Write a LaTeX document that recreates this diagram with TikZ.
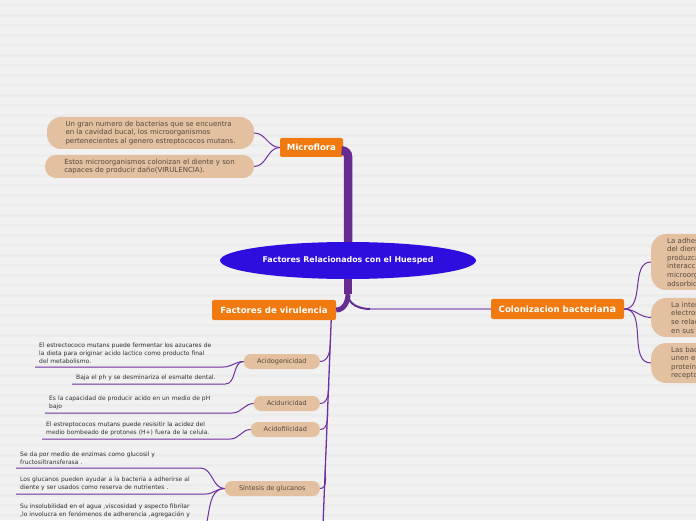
\documentclass[tikz,border=0pt]{standalone}
\usepackage{fontspec}
\setmainfont{DejaVu Sans}
\usepackage{xcolor}
\usetikzlibrary{shapes.geometric,calc}
\definecolor{bgpaper}{RGB}{241,241,241}
\definecolor{bgline}{RGB}{236,236,236}
\definecolor{topicorange}{RGB}{240,122,16}
\definecolor{notepeach}{RGB}{227,192,160}
\definecolor{linkpurple}{RGB}{112,48,160}
\definecolor{trunkpurple}{RGB}{102,44,145}
\definecolor{rootblue}{RGB}{46,14,222}
\definecolor{notetext}{RGB}{88,74,62}
\definecolor{leaftext}{RGB}{48,48,48}
\definecolor{paleline}{RGB}{170,140,200}

\begin{document}
\begin{tikzpicture}[x=1pt, y=1pt]
    \tikzstyle{topic}=[rectangle, fill=topicorange, rounded corners=2pt, text=white, font=\fontsize{8.6}{10}\selectfont\bfseries, inner sep=0pt]
    \tikzstyle{note}=[rectangle, fill=notepeach, text=notetext, align=left, font=\fontsize{7}{8.6}\selectfont, inner sep=0pt]
    \tikzstyle{pill}=[rectangle, fill=notepeach, rounded corners=7pt, text=notetext, font=\fontsize{6.5}{8}\selectfont, minimum height=15pt, inner sep=0pt, anchor=east]
    \tikzstyle{leaf}=[rectangle, text=leaftext, align=left, font=\fontsize{6}{8}\selectfont, inner xsep=4pt, inner ysep=3pt]
    \tikzstyle{link}=[draw=linkpurple, line width=1pt]
    \tikzstyle{trunk}=[draw=trunkpurple, line width=8.5pt]

    \useasboundingbox (0,0) rectangle (696,520);
    \clip (0,0) rectangle (696,520);
    \fill[bgpaper] (0,0) rectangle (696,520);
    \foreach \i in {0,...,51} \fill[bgline] (0,\i*10+3) rectangle (696,\i*10+6);

    \node[ellipse, fill=rootblue, text=white, minimum width=256pt, minimum height=37pt, inner sep=0pt, font=\fontsize{7.9}{9}\selectfont\bfseries] (root) at (348,259.5) {Factores Relacionados con el Huesped};
    \node[topic, minimum width=63pt, minimum height=19pt] (micro) at (311.5,372.5) {Microflora};
    \node[topic, minimum width=124pt, minimum height=20pt] (viru) at (274,210) {Factores de virulencia};
    \node[topic, minimum width=133pt, minimum height=20pt] (colon) at (557.5,211) {Colonizacion bacteria{\fontsize{9.8}{10}\selectfont na}};

    \node[note, minimum width=207pt, minimum height=32pt, rounded corners=14pt] (mf1) at (150.5,387) {Un gran numero de bacterias que se encuentra\\en la cavidad bucal, los microorganismos\\pertenecientes al genero estreptococos mutans.};
    \node[note, minimum width=209pt, minimum height=23pt, rounded corners=11pt] (mf2) at (149.5,353.5) {Estos microorganismos colonizan el diente y son\\capaces de producir daño(VIRULENCIA).};

    \node[note, anchor=west, minimum height=56pt, rounded corners=15pt, inner xsep=16pt, text width=66pt] (colon1) at (651,258) {La adhes\\del dient\\produzca\\interacci\\microorg\\adsorbid};
    \node[note, anchor=west, minimum height=39pt, rounded corners=15pt, inner xsep=20pt, text width=60pt] (colon2) at (651,202.5) {La inter\\electros\\se relac\\en sus};
    \node[note, anchor=west, minimum height=40pt, rounded corners=15pt, inner xsep=20pt, text width=60pt] (colon3) at (651,157) {Las bac\\unen e\\proteín\\recepto};

    \node[pill, minimum width=76pt] (acgen) at (320,158.5) {Acidogenicidad};
    \node[pill, minimum width=66pt] (acdur) at (320,116.5) {Aciduricidad};
    \node[pill, minimum width=69pt] (acfil) at (320,90.5) {Acidofilicidad};
    \node[pill, minimum width=95pt] (gluc) at (320,31.5) {Síntesis de glucanos};

    \node[leaf, anchor=south west, text width=180pt] (acgen1) at (35,153) {El estrectococo mutans puede fermentar los azucares de\\la dieta para originar acido lactico como producto final\\del metabolismo.};
    \node[leaf, anchor=south west, text width=145pt] (acgen2) at (72,136) {Baja el ph y se desminariza el esmalte dental.};
    \node[leaf, anchor=south west, text width=179pt] (acdur1) at (45,107) {Es la capacidad de producir acido en un medio de pH\\bajo};
    \node[leaf, anchor=south west, text width=180pt] (acfil1) at (42,81) {El estreptococos mutans puede resisitir la acidez del\\medio bombeado de protones (H+) fuera de la celula.};
    \node[leaf, anchor=south west, text width=176pt] (gluc1) at (16,52) {Se da por medio de enzimas como glucosil y\\fructosiltransferasa .};
    \node[leaf, anchor=south west, text width=181pt] (gluc2) at (16,26) {Los glucanos pueden ayudar a la bacteria a adherirse al\\diente y ser usados como reserva de nutrientes .};
    \node[leaf, anchor=north west, text width=181pt] (gluc3) at (16,19) {Su insolubilidad en el agua ,viscosidad y aspecto fibrilar\\,lo involucra en fenómenos de adherencia ,agregación y};

    \coordinate (split) at ([yshift=-15pt]root.south);
    \coordinate (bend) at (370,211);
    \coordinate (virutop) at ([xshift=-5pt]viru.south east);
    \coordinate (viruend) at (323,-5);
    \coordinate (glucend) at (192,-20);

    \draw[trunk, rounded corners=6pt] ([yshift=-3pt]micro.east) -| (root.north);
    \draw[trunk] (root.south) -- (split);
    \draw[trunk, line width=5pt] (split) to[out=270,in=0] (viru.east);
    \draw[draw=trunkpurple, line width=2pt] (split) to[out=270,in=180] (bend);
    \draw[draw=paleline, line width=1.2pt] (bend) -- (colon.west);

    \draw[link] (micro.west) to[out=180,in=0] (mf1.east);
    \draw[link] (micro.west) to[out=180,in=0] (mf2.east);
    \draw[link] (colon.east) to[out=0,in=180] (colon1.west);
    \draw[link] (colon.east) to[out=0,in=180] (colon2.west);
    \draw[link] (colon.east) to[out=0,in=180] (colon3.west);

    \draw[link, line width=1.3pt] (virutop) -- (viruend);
    \draw[link] (acgen.east) to[out=0,in=270] ($(virutop)!0.1!(viruend)$);
    \draw[link] (acdur.east) to[out=0,in=270] ($(virutop)!0.31!(viruend)$);
    \draw[link] (acfil.east) to[out=0,in=270] ($(virutop)!0.44!(viruend)$);
    \draw[link] (gluc.east) to[out=0,in=270] ($(virutop)!0.73!(viruend)$);

    \draw[link] (acgen.west) to[out=180,in=0] (acgen1.south east) -- (acgen1.south west);
    \draw[link] (acgen.west) to[out=180,in=0] (acgen2.south east) -- (acgen2.south west);
    \draw[link] (acdur.west) to[out=180,in=0] (acdur1.south east) -- (acdur1.south west);
    \draw[link] (acfil.west) to[out=180,in=0] (acfil1.south east) -- (acfil1.south west);
    \draw[link] (gluc.west) to[out=180,in=0] (gluc1.south east) -- (gluc1.south west);
    \draw[link] (gluc.west) to[out=180,in=0] (gluc2.south east) -- (gluc2.south west);
    \draw[link] (gluc.west) to[out=180,in=0] (glucend);
\end{tikzpicture}
\end{document}
